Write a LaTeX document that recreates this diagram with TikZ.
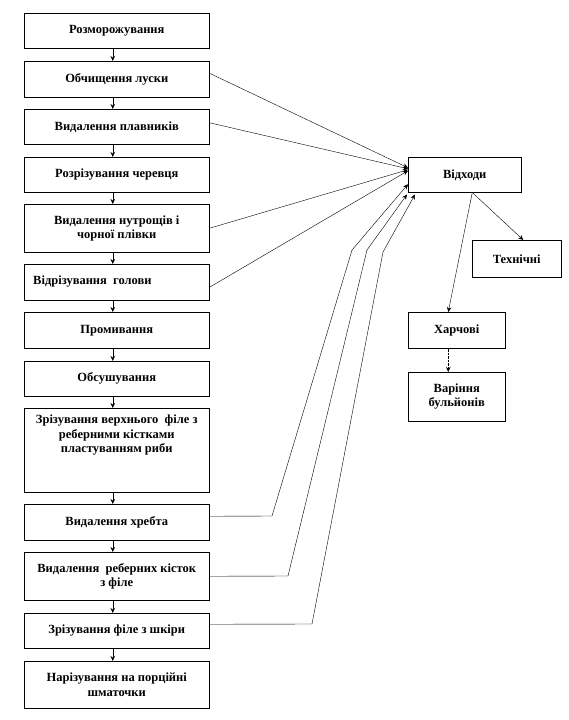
\documentclass[tikz,border=0pt]{standalone}
\usepackage{fontspec}
\setmainfont{Liberation Serif}
\usetikzlibrary{arrows.meta}
\begin{document}
\begin{tikzpicture}[x=1pt,y=-1pt,
  boxfont/.style={font=\bfseries\fontsize{12.5}{14.5}\selectfont},
  box/.style={draw=black, line width=0.5pt, inner sep=0pt, anchor=north west, boxfont, align=center},
  lbox/.style={box, minimum width=185pt},
  txt/.style={boxfont, align=center, inner sep=0pt},
  arr/.style={-{Stealth[length=5pt,width=4.5pt]}, line width=0.5pt},
  link/.style={-{Stealth[length=5pt,width=4.5pt]}, line width=0.4pt}
]
\useasboundingbox (0,0) rectangle (568,720);

% left column
\node[lbox, minimum height=35pt] (b1) at (24,13) {Розморожування};
\node[lbox, minimum height=36pt] (b2) at (24,61) {Обчищення луски};
\node[lbox, minimum height=35pt] (b3) at (24,109) {Видалення плавників};
\node[lbox, minimum height=35pt] (b4) at (24,157) {Розрізування черевця};
\node[lbox, minimum height=48pt] (b5) at (24,204) {Видалення нутрощів і\\чорної плівки};
\node[lbox, minimum height=36pt] (b6) at (24,264) {};
\node[txt, anchor=west] (t6) at ([xshift=9pt,yshift=1pt]b6.west) {Відрізування \ голови};
\node[lbox, minimum height=36pt] (b7) at (24,312) {Промивання};
\node[lbox, minimum height=35pt] (b8) at (24,361) {Обсушування};
\node[lbox, minimum height=84pt] (b9) at (24,408) {};
\node[txt, anchor=north] (t9) at ([yshift=-7pt]b9.north) {Зрізування верхнього \ філе з\\реберними кістками\\пластуванням риби};
\node[lbox, minimum height=36pt] (b10) at (24,504) {Видалення хребта};
\node[lbox, minimum height=48pt] (b11) at (24,552) {Видалення \ реберних кісток\\з філе};
\node[lbox, minimum height=35pt] (b12) at (24,613) {Зрізування філе з шкіри};
\node[lbox, minimum height=47pt] (b13) at (24,661) {Нарізування на порційні\\шматочки};

% right column
\node[box, minimum width=113pt, minimum height=35pt] (vid) at (408,157) {Відходи};
\node[box, minimum width=89pt, minimum height=37pt] (tech) at (472,240) {Технічні};
\node[box, minimum width=97pt, minimum height=36pt] (kharch) at (408,312) {Харчові};
\node[box, minimum width=97pt, minimum height=49pt] (var) at (408,372) {Варіння\\бульйонів};

% vertical flow
\foreach \a/\b in {b1/b2,b2/b3,b3/b4,b4/b5,b5/b6,b6/b7,b7/b8,b8/b9,b9/b10,b10/b11,b11/b12,b12/b13}
  \draw[arr] ([xshift=-4pt]\a.south) -- ([xshift=-4pt]\b.north);

% straight lines to waste
\draw[link] ([yshift=6pt]b2.east) -- ([yshift=7pt]vid.west);
\draw[link] ([yshift=4pt]b3.east) -- ([yshift=6pt]vid.west);
\draw[link] (b5.east) -- ([yshift=5pt]vid.west);
\draw[link] ([yshift=-5pt]b6.east) -- ([yshift=4pt]vid.west);

% broken lines to waste
\coordinate (p1) at (272,516);
\coordinate (q1) at (352,250);
\coordinate (p2) at (288,576);
\coordinate (q2) at (367,250);
\coordinate (p3) at (312,624);
\coordinate (q3) at (383,252);
\draw[link] ([yshift=6pt]b10.east) -- (p1) -- (q1) -- ([yshift=-9.5pt]vid.west);
\draw[link] (b11.east) -- (p2) -- (q2) -- ([xshift=-1pt,yshift=-2pt]vid.south west);
\draw[link] ([yshift=6.5pt]b12.east) -- (p3) -- (q3) -- ([xshift=7pt,yshift=-2pt]vid.south west);

% waste split
\draw[link] ([xshift=7.5pt]vid.south) -- ([xshift=6.5pt]tech.north);
\draw[link] ([xshift=7.5pt]vid.south) -- ([xshift=-8.5pt]kharch.north);
\draw[link, densely dotted] ([xshift=-8.5pt]kharch.south) -- ([xshift=-8.5pt]var.north);
\end{tikzpicture}
\end{document}
